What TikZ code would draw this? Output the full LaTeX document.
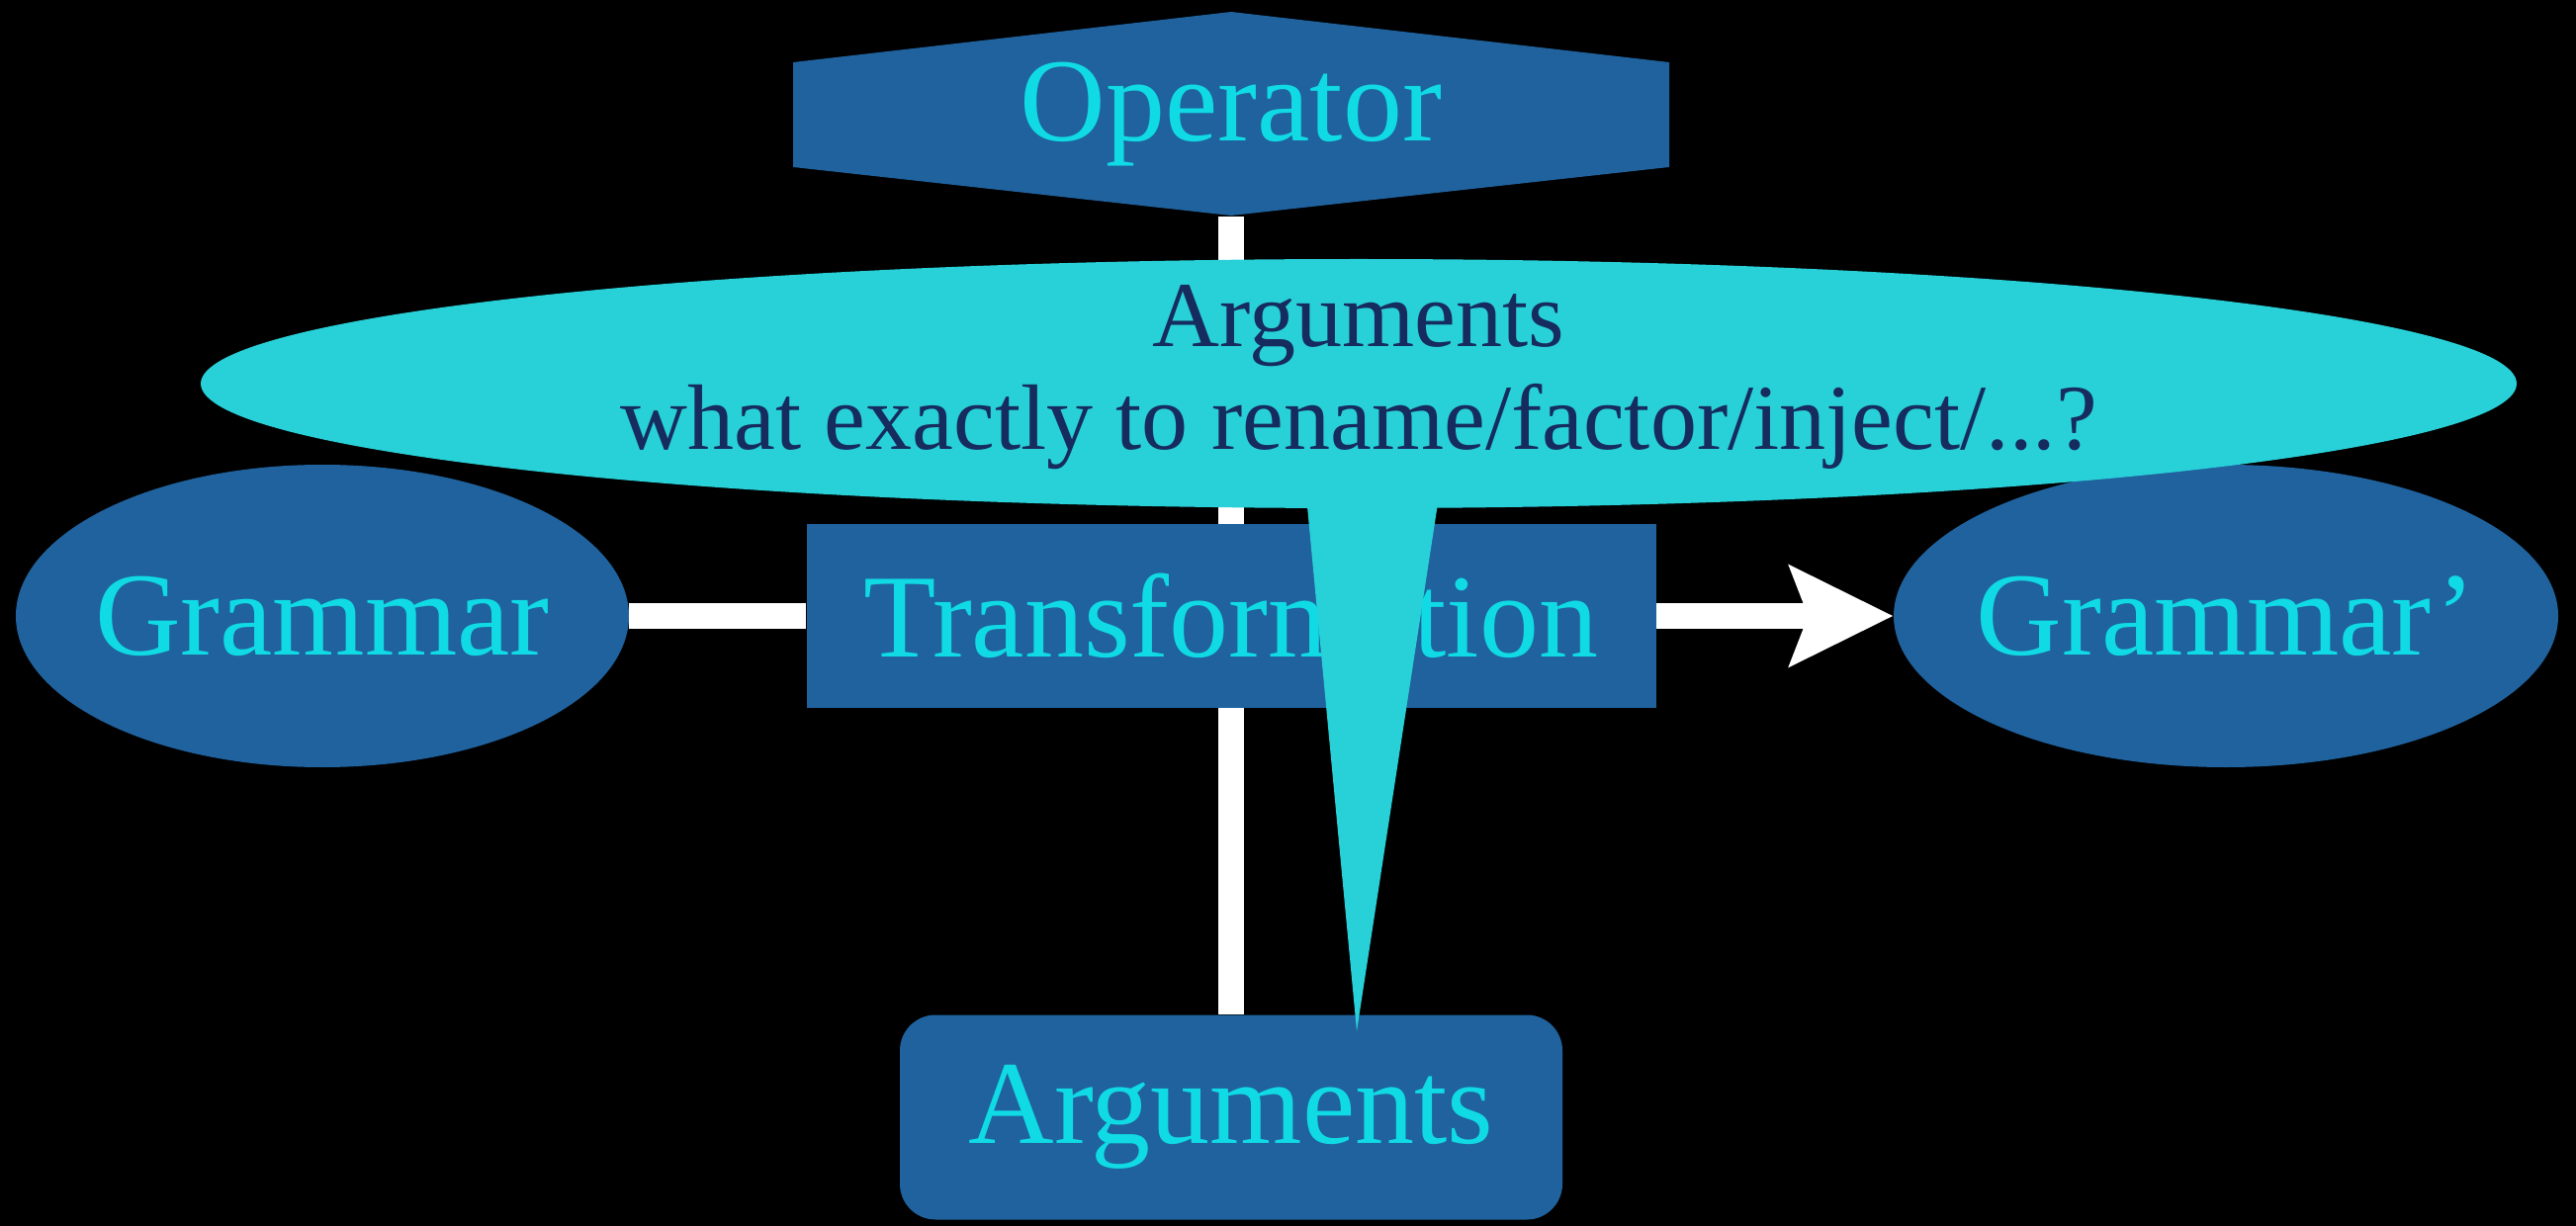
\documentclass[tikz,border=0pt]{standalone}
\usepackage{fontspec}
\setmainfont{Liberation Serif}
\usetikzlibrary{shapes.geometric,arrows.meta}
\definecolor{boxblue}{RGB}{31,98,158}
\definecolor{labcyan}{RGB}{16,218,228}
\definecolor{callfill}{RGB}{40,208,216}
\definecolor{calltext}{RGB}{22,44,94}
\tikzset{
  bigtext/.style={font=\fontsize{60}{72}\selectfont, text=labcyan, inner sep=0pt},
  ovalbox/.style={bigtext, ellipse, fill=boxblue, minimum height=153pt},
  rectbox/.style={bigtext, rectangle, fill=boxblue},
  conn/.style={draw=white, line width=13pt},
}
\begin{document}
\begin{tikzpicture}[x=0.5pt,y=-0.5pt]
\fill[black] (0,0) rectangle (2605,1240);
\useasboundingbox (0,0) rectangle (2605,1240);
% operator hexagon
\fill[boxblue] (802,63) -- (1245,12) -- (1688,63) -- (1688,169) -- (1245,218) -- (802,169) -- cycle;
\node[bigtext, minimum width=443pt, minimum height=103pt] (op) at (1245,116) {Operator};
\node[ovalbox, minimum width=310pt] (gram) at (326,623) {\makebox[0pt]{Grammar}};
\node[ovalbox, minimum width=336pt] (gramp) at (2251,623) {\makebox[0pt]{Grammar’}};
\node[rectbox, minimum width=429.5pt, minimum height=93pt] (trans) at (1245,623) {Transformation};
\node[rectbox, rounded corners=18pt, minimum width=335pt, minimum height=103.5pt] (args) at (1245,1130) {Arguments};
% connectors
\draw[conn] (op.south) -- (trans.north);
\draw[conn] (trans.south) -- (args.north);
\draw[conn] (gram.east) -- (trans.west);
\draw[conn, -{Stealth[length=52pt, width=50pt, inset=9pt]}] (trans.east) -- (gramp.west);
% callout
\coordinate (tip) at (1372,1043);
\fill[callfill] (1318,470) -- (tip) -- (1460,470) -- cycle;
\node[ellipse, fill=callfill, minimum width=1171pt, minimum height=126pt, inner sep=0pt] (callout) at (1374,388) {};
\node[font=\fontsize{47}{52}\selectfont, text=calltext, align=center, inner sep=0pt] (calltxt) at (1374,382) {Arguments\\what exactly to rename/factor/inject/...?};
\end{tikzpicture}
\end{document}
